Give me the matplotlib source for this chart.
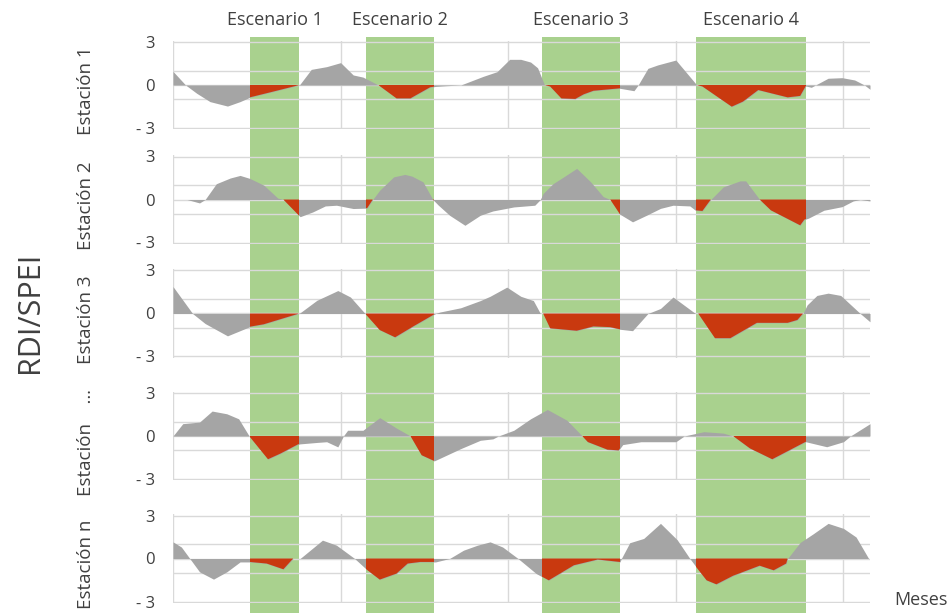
import matplotlib
import numpy as np
import matplotlib.pyplot as plt
from matplotlib.patches import Rectangle

matplotlib.use('Agg')

plt.rcParams['font.family'] = ['Open Sans', 'DejaVu Sans']

TEXT_COLOR = '#404040'
GRID_COLOR = '#d9d9d9'
GRAY = '#a5a5a5'
RED = '#c9390f'
GREEN = '#a9d18e'

# scenarios (green bands), in months
scenarios = ['Escenario 1', 'Escenario 2', 'Escenario 3', 'Escenario 4']
scen_start = [5.5, 13.8, 26.4, 37.45]
scen_end = [9.05, 18.7, 32.0, 45.3]

stations = ['Estación 1', 'Estación 2', 'Estación 3', 'Estación    …', 'Estación n']

# RDI/SPEI per station: month, value
x_est1 = [0, 0.9, 1.7, 2.65, 3.9, 4.8, 5.5, 7.0, 9.05, 9.9, 11.0, 12.0, 12.9, 13.6, 14.7, 16.0,
          17.0, 18.4, 18.8, 19.6, 20.6, 22.2, 23.2, 24.1, 24.9, 25.6, 26.1, 26.6, 27.0, 27.8,
          28.8, 29.4, 30.1, 32.0, 33.0, 33.3, 34.0, 34.7, 36.0, 37.5, 37.9, 40.0, 40.8, 41.9,
          44.0, 44.9, 45.3, 45.7, 46.0, 46.9, 47.9, 48.8, 49.5, 49.9]
v_est1 = [0.95, 0, -0.58, -1.16, -1.47, -1.16, -0.86, -0.5, 0, 1.09, 1.28, 1.56, 0.7, 0.55, 0, -0.93,
          -0.93, -0.16, -0.1, -0.05, 0, 0.6, 0.93, 1.79, 1.79, 1.6, 1.2, 0, -0.1, -0.93,
          -0.97, -0.65, -0.4, -0.23, -0.4, 0, 1.16, 1.4, 1.74, 0, -0.1, -1.51, -1.16, -0.35,
          -0.86, -0.76, -0.07, -0.16, 0, 0.47, 0.51, 0.35, 0, -0.3]

x_est2 = [0, 1.0, 1.9, 2.3, 3.1, 4.1, 4.8, 5.5, 6.5, 7.5, 7.9, 9.1, 10.0, 10.9, 11.7, 12.9,
          13.9, 14.3, 14.8, 15.8, 16.6, 17.1, 17.9, 18.6, 19.0, 19.8, 20.9, 22.0, 22.9, 24.4,
          25.9, 26.3, 26.5, 27.2, 27.8, 28.9, 29.9, 30.8, 31.3, 32.0, 32.9, 33.9, 34.9, 35.8,
          37.0, 37.4, 37.9, 38.5, 39.4, 40.6, 41.0, 42.0, 42.8, 43.7, 44.9, 45.2, 45.5, 46.6,
          47.9, 48.7, 49.2, 49.9]
v_est2 = [0, 0, -0.24, 0, 1.1, 1.5, 1.68, 1.47, 1.0, 0.1, 0, -1.2, -0.87, -0.45, -0.4, -0.63,
          -0.6, 0, 0.65, 1.58, 1.75, 1.63, 1.23, 0, -0.4, -1.1, -1.8, -1.1, -0.8, -0.52,
          -0.4, 0, 0.42, 1.1, 1.47, 2.17, 1.23, 0.2, 0, -1.03, -1.56, -1.1, -0.62, -0.4,
          -0.45, -0.75, -0.8, 0, 0.88, 1.3, 1.3, 0, -0.75, -1.2, -1.8, -1.4, -1.3, -0.75,
          -0.5, -0.1, 0, -0.1]

x_est3 = [0, 1.4, 2.3, 3.9, 5.5, 6.5, 9.03, 10.3, 11.8, 12.7, 13.75, 14.8, 15.9, 17.2, 18.8,
          19.1, 20.6, 22.0, 22.7, 23.9, 24.9, 25.8, 26.3, 26.5, 27.0, 28.9, 30.1, 31.3, 32.0,
          32.9, 34.0, 34.9, 35.8, 37.4, 37.6, 38.8, 39.9, 41.8, 44.0, 44.7, 45.1, 45.4, 46.1,
          46.9, 47.8, 49.2, 49.9]
v_est3 = [1.88, 0, -0.7, -1.56, -0.92, -0.75, 0, 0.92, 1.6, 1.15, 0, -1.15, -1.66, -0.9, 0,
          0.1, 0.4, 0.9, 1.2, 1.84, 1.2, 0.9, 0, 0, -1.03, -1.2, -0.9, -0.95, -1.1,
          -1.2, 0, 0.35, 1.15, 0, 0, -1.72, -1.72, -0.65, -0.65, -0.45, 0, 0.6, 1.26,
          1.42, 1.26, 0, -0.58]

x_est4 = [0, 0.7, 1.9, 2.8, 3.85, 4.7, 5.45, 6.8, 7.7, 8.95, 9.1, 10.3, 11.0, 11.8, 12.2,
          12.5, 13.6, 14.8, 16.0, 17.0, 17.8, 18.7, 20.6, 22.0, 22.9, 23.3, 24.4, 25.6, 26.8,
          28.2, 29.3, 29.7, 31.1, 31.9, 32.2, 33.5, 36.0, 36.6, 38.0, 39.4, 40.1, 41.3, 42.9,
          45.3, 46.8, 48.0, 48.5, 49.9]
v_est4 = [0, 0.86, 0.97, 1.74, 1.55, 1.2, 0, -1.62, -1.22, -0.58, -0.55, -0.45, -0.4, -0.76, 0,
          0.4, 0.4, 1.28, 0.55, 0, -1.34, -1.74, -0.88, -0.3, -0.2, 0, 0.4, 1.2, 1.85,
          1.1, 0, -0.42, -0.95, -1.0, -0.6, -0.4, -0.4, 0, 0.3, 0.2, 0, -0.86, -1.62,
          -0.4, -0.75, -0.4, 0, 0.86]

x_est5 = [0, 0.6, 1.2, 1.9, 2.9, 3.85, 4.8, 5.5, 6.7, 7.9, 8.6, 9.1, 10.7, 11.7, 13.0, 13.9,
          14.8, 16.0, 16.8, 17.7, 18.8, 19.8, 20.8, 21.8, 22.7, 23.6, 24.7, 26.0, 26.9, 28.7,
          30.4, 32.0, 32.1, 32.7, 33.7, 34.9, 36.1, 37.0, 37.5, 38.2, 38.9, 40.1, 42.0, 43.0,
          43.9, 44.0, 44.9, 45.8, 46.9, 48.0, 48.9, 49.8]
v_est5 = [1.16, 0.8, 0, -0.93, -1.44, -0.93, -0.24, -0.24, -0.35, -0.75, 0, 0, 1.28, 0.93, 0, -0.8,
          -1.47, -1.05, -0.35, -0.24, -0.24, 0, 0.58, 0.93, 1.16, 0.8, 0, -1.05, -1.52, -0.47,
          -0.07, -0.24, 0, 1.1, 1.4, 2.45, 1.3, 0, -0.65, -1.52, -1.8, -1.2, -0.5, -0.82,
          -0.35, 0, 1.12, 1.7, 2.45, 2.1, 1.5, 0]

x_all = [x_est1, x_est2, x_est3, x_est4, x_est5]
v_all = [v_est1, v_est2, v_est3, v_est4, v_est5]

W, H = 950, 613
X0, X1 = 173, 870
XMAX = 49.9
zero_px = [85, 199.5, 313.5, 436, 558.5]
half_px = 43 * 3.1 / 3

fig = plt.figure(figsize=(W / 100, H / 100), dpi=100)

# green bands behind every panel
bg = fig.add_axes([X0 / W, 0, (X1 - X0) / W, 1 - 37 / H])
bg.set_xlim(0, XMAX)
bg.set_ylim(0, 1)
bg.axis('off')
for name, s, e in zip(scenarios, scen_start, scen_end):
    bg.axvspan(s, e, color=GREEN, lw=0)
    bg.text((s + e) / 2, 1 + 17 / (H - 37), name, transform=bg.get_xaxis_transform(),
            ha='center', va='center', fontsize=13, color=TEXT_COLOR)

for i in range(5):
    x = np.array(x_all[i])
    v = np.array(v_all[i])
    ax = fig.add_axes([X0 / W, 1 - (zero_px[i] + half_px) / H, (X1 - X0) / W, 2 * half_px / H])
    ax.patch.set_alpha(0)
    ax.set_xlim(0, XMAX)
    ax.set_ylim(-3.1, 3.1)

    ax.fill_between(x, v, 0, color=GRAY, lw=0)
    for s, e in zip(scen_start, scen_end):
        red = ax.fill_between(x, v, 0, where=v < 0, interpolate=True, color=RED, lw=0)
        red.set_clip_path(Rectangle((s, -5), e - s, 10, transform=ax.transData))

    ax.set_xticks([0, 12, 24, 36, 48])
    ax.set_yticks([-3, 0, 3])
    ax.set_yticklabels(['- 3', '0', '3'])
    ax.set_yticks([-1, 1], minor=True)
    ax.tick_params(axis='x', length=0, labelbottom=False)
    ax.tick_params(axis='y', which='both', length=0, pad=13, labelsize=12, labelcolor=TEXT_COLOR)
    ax.grid(True, which='both', color=GRID_COLOR, lw=1)
    ax.set_axisbelow(True)
    for sp in ax.spines.values():
        sp.set_visible(False)

    fig.text(86 / W, 1 - (zero_px[i] + 6) / H, stations[i], rotation=90,
             ha='center', va='center', fontsize=13.5, color=TEXT_COLOR)

fig.text(30 / W, 1 - 312 / H, 'RDI/SPEI', rotation=90, ha='center', va='center',
         fontsize=22, color=TEXT_COLOR)
fig.text(921 / W, 1 - 600 / H, 'Meses', ha='center', va='center', fontsize=13, color=TEXT_COLOR)

plt.savefig('out.png', dpi=100)
plt.close()
